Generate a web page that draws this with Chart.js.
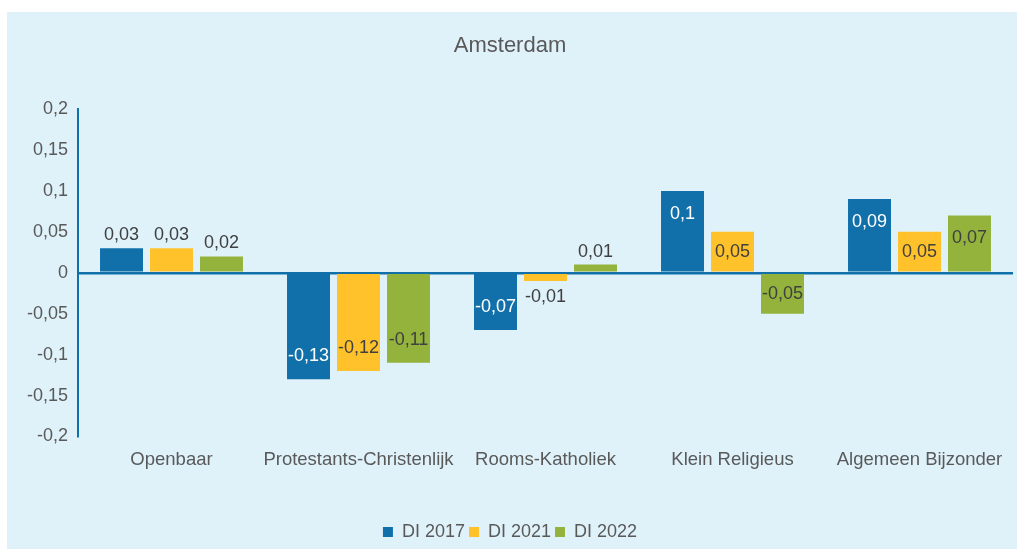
<!DOCTYPE html>
<html>
<head>
<meta charset="utf-8">
<script src="https://cdn.jsdelivr.net/npm/chart.js@4/dist/chart.umd.min.js"></script>
<style>
  html, body { margin: 0; padding: 0; background: #ffffff; }
  #panel { position: absolute; left: 7px; top: 12px; width: 1010px; height: 537px; background: #dff2fa; }
  #panel canvas { display: block; }
</style>
</head>
<body>
<div id="panel"><canvas id="c"></canvas></div>
<script>
const chartTitle = 'Amsterdam';
const categories = ['Openbaar', 'Protestants-Christenlijk', 'Rooms-Katholiek', 'Klein Religieus', 'Algemeen Bijzonder'];
const seriesNames = ['DI 2017', 'DI 2021', 'DI 2022'];
const di2017 = [0.03, -0.13, -0.07, 0.10, 0.09];
const di2021 = [0.03, -0.12, -0.01, 0.05, 0.05];
const di2022 = [0.02, -0.11, 0.01, -0.05, 0.07];
const yMin = -0.2;
const yMax = 0.2;
const yStep = 0.05;

const colors = ['#1170aa', '#ffc22b', '#93b33d'];
const labelInsideColors = ['#ffffff', '#404040', '#404040'];
const textColor = '#595959';
const axisColor = '#1170aa';
const FONT = '"Liberation Sans", Arial, sans-serif';

function fmt(v) {
  const r = Math.round(v * 100) / 100;
  return String(r === 0 ? 0 : r).replace('.', ',');
}

const dataLabels = {
  id: 'dataLabels',
  afterDatasetsDraw(chart) {
    const ctx = chart.ctx;
    ctx.save();
    ctx.font = '18px ' + FONT;
    ctx.textAlign = 'center';
    ctx.textBaseline = 'middle';
    chart.data.datasets.forEach((ds, di) => {
      const meta = chart.getDatasetMeta(di);
      meta.data.forEach((el, i) => {
        const v = ds.data[i];
        const h = Math.abs(el.base - el.y);
        const dir = v >= 0 ? 1 : -1;
        let y, color;
        if (h > 30) {
          const off = Math.min(23, h / 2);
          y = el.y + dir * off;
          color = labelInsideColors[di];
        } else {
          y = v >= 0 ? el.y - 13 : el.y + 16;
          color = '#404040';
        }
        ctx.fillStyle = color;
        ctx.fillText(fmt(v), el.x, y);
      });
    });
    ctx.restore();
  }
};

new Chart(document.getElementById('c'), {
  type: 'bar',
  data: {
    labels: categories,
    datasets: [
      { label: seriesNames[0], data: di2017, backgroundColor: colors[0] },
      { label: seriesNames[1], data: di2021, backgroundColor: colors[1] },
      { label: seriesNames[2], data: di2022, backgroundColor: colors[2] }
    ]
  },
  options: {
    responsive: true,
    maintainAspectRatio: false,
    animation: false,
    events: [],
    layout: { padding: { left: 0, right: 4, top: 0, bottom: -2 } },
    datasets: { bar: { categoryPercentage: 0.802, barPercentage: 0.86 } },
    plugins: {
      title: {
        display: true,
        text: chartTitle,
        color: textColor,
        font: { family: FONT, size: 22, weight: 'normal' },
        padding: { top: 21, bottom: 49.6 }
      },
      legend: {
        position: 'bottom',
        labels: {
          color: textColor,
          font: { family: FONT, size: 18 },
          boxWidth: 10,
          boxHeight: 10,
          padding: 4
        }
      },
      tooltip: { enabled: false }
    },
    scales: {
      x: {
        grid: { display: false },
        border: { display: false },
        ticks: { color: textColor, font: { family: FONT, size: 18.5 }, padding: 4, maxRotation: 0, autoSkip: false },
        afterFit(s) { s.height = 82.5; }
      },
      y: {
        min: yMin,
        max: yMax,
        z: 1,
        ticks: {
          stepSize: yStep,
          color: textColor,
          font: { family: FONT, size: 18 },
          padding: 10,
          callback: (v) => fmt(v)
        },
        grid: {
          drawTicks: false,
          lineWidth: 2.5,
          color: (c) => (c.tick && Math.abs(c.tick.value) < 1e-9) ? axisColor : 'rgba(0,0,0,0)'
        },
        border: { display: true, color: axisColor, width: 2 },
        afterFit(s) { s.width = 71; }
      }
    }
  },
  plugins: [dataLabels]
});
</script>
</body>
</html>
